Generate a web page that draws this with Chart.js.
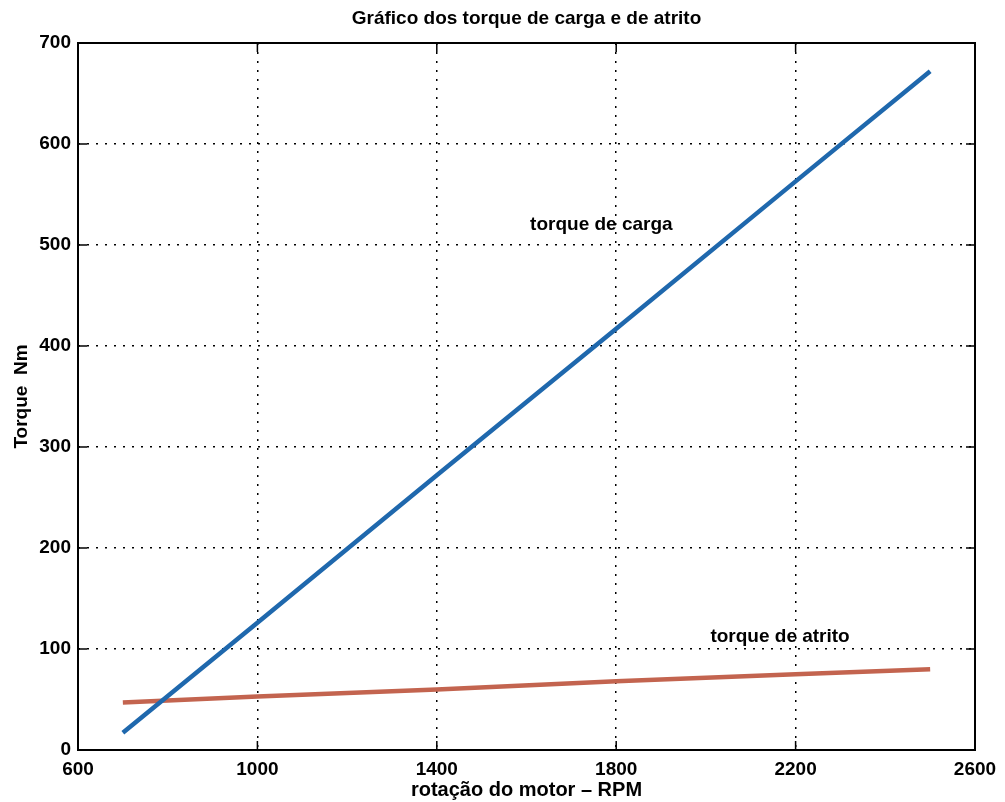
<!DOCTYPE html>
<html>
<head>
<meta charset="utf-8">
<script src="https://cdn.jsdelivr.net/npm/chart.js@4/dist/chart.umd.min.js"></script>
<style>
	body { margin: 0; background: #fff; }
	#wrap { width: 1005px; height: 802px; }
</style>
</head>
<body>
<div id="wrap"><canvas id="myChart"></canvas></div>
<script>
// values
var rpm = [700, 1000, 1400, 1800, 2200, 2500];
var torqueCarga = [17, 126, 272, 417, 563, 672];
var torqueAtrito = [47, 53, 60, 68, 75, 80];
var xTicks = [600, 1000, 1400, 1800, 2200, 2600];
var yTicks = [0, 100, 200, 300, 400, 500, 600, 700];
// text labels placed in data units
var labels = [
	{ text: "torque de carga", x: 1608, y: 520 },
	{ text: "torque de atrito", x: 2010, y: 112 },
];

const font = "'Liberation Sans', Arial, Helvetica, sans-serif";

function toPoints(xs, ys) {
	return xs.map((x, i) => ({ x: x, y: ys[i] }));
}

// box around the plot, inward tick marks and the text labels
const boxPlugin = {
	id: "box",
	afterDraw(chart) {
		const { ctx, chartArea: a, scales } = chart;
		const len = 9;
		ctx.save();
		ctx.strokeStyle = "#000";
		ctx.lineWidth = 1.5;
		ctx.beginPath();
		xTicks.forEach((v) => {
			const px = scales.x.getPixelForValue(v);
			ctx.moveTo(px, a.bottom);
			ctx.lineTo(px, a.bottom - len);
			ctx.moveTo(px, a.top);
			ctx.lineTo(px, a.top + len);
		});
		yTicks.forEach((v) => {
			const py = scales.y.getPixelForValue(v);
			ctx.moveTo(a.left, py);
			ctx.lineTo(a.left + len, py);
			ctx.moveTo(a.right, py);
			ctx.lineTo(a.right - len, py);
		});
		ctx.stroke();
		ctx.lineWidth = 2;
		ctx.strokeRect(a.left, a.top, a.right - a.left, a.bottom - a.top);

		ctx.fillStyle = "#000";
		ctx.font = "bold 19px " + font;
		ctx.textAlign = "left";
		ctx.textBaseline = "middle";
		labels.forEach((l) => {
			ctx.fillText(l.text, scales.x.getPixelForValue(l.x), scales.y.getPixelForValue(l.y));
		});
		ctx.restore();
	},
};

new Chart(document.getElementById("myChart"), {
	type: "line",
	data: {
		datasets: [
			{
				label: "torque de carga",
				data: toPoints(rpm, torqueCarga),
				borderColor: "#1f68ad",
				borderWidth: 4.5,
				pointRadius: 0,
				tension: 0,
			},
			{
				label: "torque de atrito",
				data: toPoints(rpm, torqueAtrito),
				borderColor: "#c3644f",
				borderWidth: 4.5,
				pointRadius: 0,
				tension: 0,
			},
		],
	},
	plugins: [boxPlugin],
	options: {
		responsive: true,
		maintainAspectRatio: false,
		animation: false,
		layout: {
			padding: { left: 0, right: 30, top: 0, bottom: 0 },
		},
		plugins: {
			legend: { display: false },
			tooltip: { enabled: false },
			title: {
				display: true,
				fullSize: false,
				text: "Gráfico dos torque de carga e de atrito",
				color: "#000",
				font: { family: font, size: 19, weight: "bold" },
				padding: { top: 7, bottom: 13.2 },
			},
		},
		scales: {
			x: {
				type: "linear",
				min: 600,
				max: 2600,
				afterFit: (s) => { s.height = 52; },
				afterBuildTicks: (s) => { s.ticks = xTicks.map((v) => ({ value: v })); },
				grid: {
					color: "#000",
					lineWidth: 1.5,
					drawTicks: false,
				},
				border: { display: false, dash: [2, 7] },
				ticks: {
					color: "#000",
					padding: 8,
					font: { family: font, size: 19, weight: "bold" },
					callback: (v) => String(v),
				},
				title: {
					display: true,
					text: "rotação do motor – RPM",
					color: "#000",
					font: { family: font, size: 20, weight: "bold" },
					padding: { top: 0, bottom: 0 },
				},
			},
			y: {
				min: 0,
				max: 700,
				afterFit: (s) => { s.width = 78; },
				afterBuildTicks: (s) => { s.ticks = yTicks.map((v) => ({ value: v })); },
				grid: {
					color: "#000",
					lineWidth: 1.5,
					drawTicks: false,
				},
				border: { display: false, dash: [2, 7] },
				ticks: {
					color: "#000",
					padding: 7,
					font: { family: font, size: 19, weight: "bold" },
					callback: (v) => String(v),
				},
				title: {
					display: true,
					text: "Torque  Nm",
					color: "#000",
					font: { family: font, size: 19, weight: "bold" },
					padding: { top: 10, bottom: 0 },
				},
			},
		},
	},
});
</script>
</body>
</html>
